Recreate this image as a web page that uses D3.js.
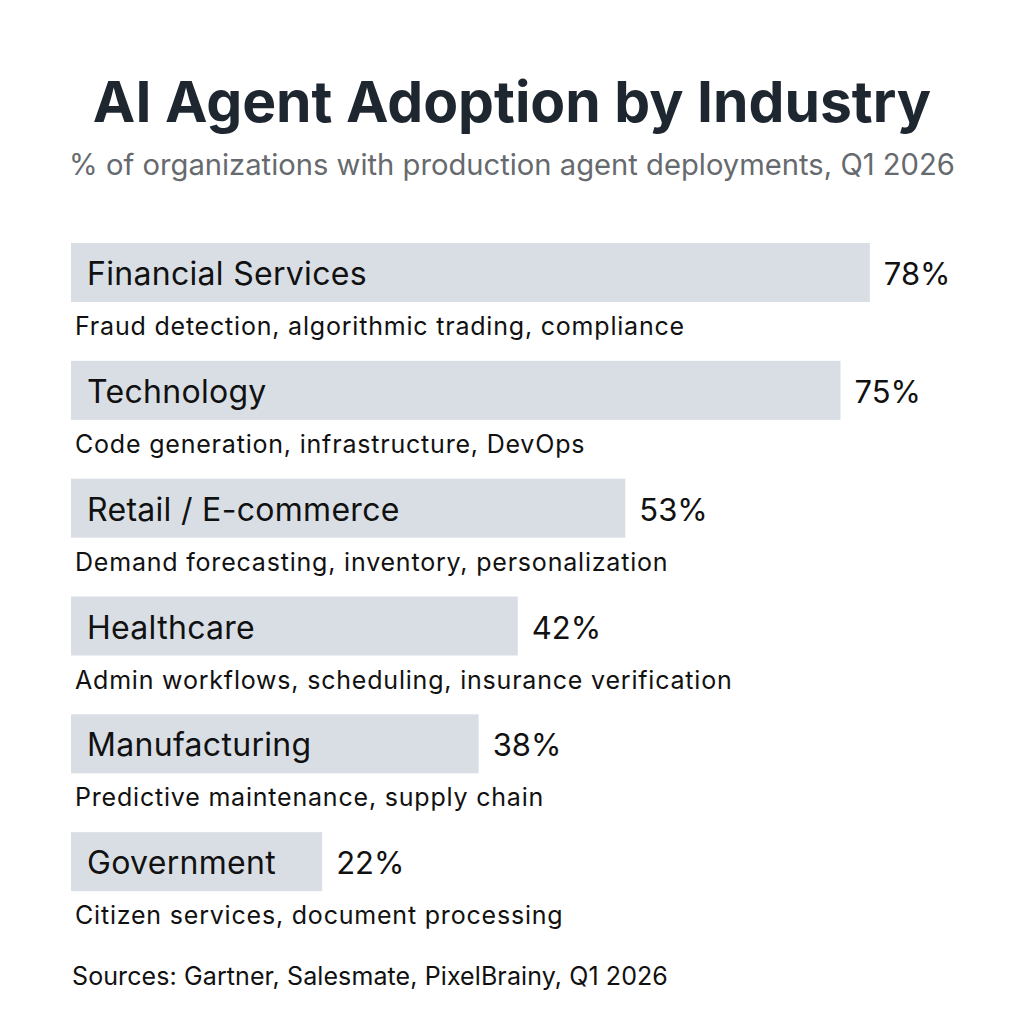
<!DOCTYPE html>
<html>
<head>
<meta charset="utf-8">
<script src="https://cdn.jsdelivr.net/npm/d3@7"></script>
<style>
  body { margin: 0; background: #fff; }
  svg { display: block; font-family: Inter, "Noto Sans", sans-serif; }
</style>
</head>
<body>
<div id="chart"></div>
<script>
const width = 1024;
const height = 1024;

const industries = ['Financial Services', 'Technology', 'Retail / E-commerce', 'Healthcare', 'Manufacturing', 'Government'];
const adoption = [78, 75, 53, 42, 38, 22];
const useCases = [
    'Fraud detection, algorithmic trading, compliance',
    'Code generation, infrastructure, DevOps',
    'Demand forecasting, inventory, personalization',
    'Admin workflows, scheduling, insurance verification',
    'Predictive maintenance, supply chain',
    'Citizen services, document processing'
];

const data = industries.map((d, i) => ({ name: d, value: adoption[i], desc: useCases[i] }));

const barLeft = 71;
const barH = 59;

// bars start from a base offset, as in the reference
const x = d3.scaleLinear().domain([0, 100]).range([107, 1085]);
const y = d3.scaleBand().domain(industries).range([243, 950]).paddingInner(0).paddingOuter(0);

const svg = d3.select('#chart')
    .append('svg')
    .attr('width', width)
    .attr('height', height);

svg.append('text')
    .attr('x', width / 2)
    .attr('y', 122)
    .attr('text-anchor', 'middle')
    .attr('fill', '#1e2630')
    .attr('font-size', 57)
    .attr('font-weight', 700)
    .text('AI Agent Adoption by Industry');

svg.append('text')
    .attr('x', width / 2)
    .attr('y', 175)
    .attr('text-anchor', 'middle')
    .attr('fill', '#666a6e')
    .attr('font-size', 29.2)
    .text('% of organizations with production agent deployments, Q1 2026');

const row = svg.selectAll('g.row')
    .data(data)
    .join('g')
    .attr('class', 'row')
    .attr('transform', d => `translate(0,${y(d.name)})`);

row.append('rect')
    .attr('x', barLeft)
    .attr('y', 0)
    .attr('width', d => x(d.value) - barLeft)
    .attr('height', barH)
    .attr('fill', '#d9dee5');

row.append('text')
    .attr('x', 87)
    .attr('y', 42)
    .attr('fill', '#111')
    .attr('font-size', 32)
    .attr('letter-spacing', 0.3)
    .text(d => d.name);

row.append('text')
    .attr('x', d => x(d.value) + 14)
    .attr('y', 42)
    .attr('fill', '#111')
    .attr('font-size', 31)
    .text(d => d.value + '%');

row.append('text')
    .attr('x', 75)
    .attr('y', 92)
    .attr('fill', '#111')
    .attr('font-size', 25)
    .attr('letter-spacing', 0.8)
    .text(d => d.desc);

svg.append('text')
    .attr('x', 72)
    .attr('y', 985)
    .attr('fill', '#111')
    .attr('font-size', 25)
    .attr('letter-spacing', 0.1)
    .text('Sources: Gartner, Salesmate, PixelBrainy, Q1 2026');
</script>
</body>
</html>
